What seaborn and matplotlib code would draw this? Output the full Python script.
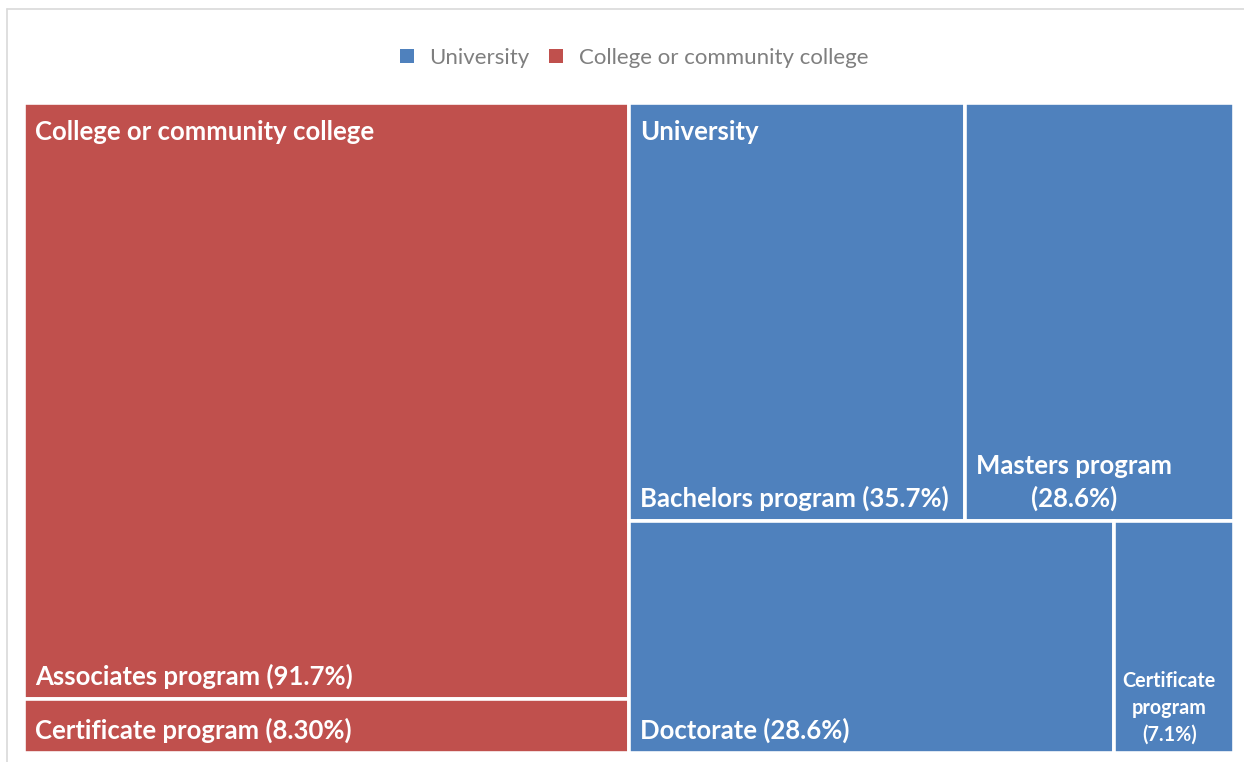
import matplotlib
matplotlib.use("Agg")
import matplotlib.pyplot as plt
import seaborn as sns
from matplotlib.patches import Rectangle, Patch
from matplotlib.lines import Line2D

# ---- data -------------------------------------------------------------
groups = ["College or community college", "University"]
group_colors = ["#C0504D", "#4F81BD"]
legend_order = ["University", "College or community college"]

college_programs = ["Associates program", "Certificate program"]
college_shares = [91.7, 8.30]
college_share_text = ["91.7%", "8.30%"]
college_label_lines = ["{name} ({pct})", "{name} ({pct})"]
college_rows = [[0], [1]]

university_programs = ["Bachelors program", "Masters program", "Doctorate", "Certificate program"]
university_shares = [35.7, 28.6, 28.6, 7.1]
university_share_text = ["35.7%", "28.6%", "28.6%", "7.1%"]
university_label_lines = ["{name} ({pct})", "{name}\n({pct})", "{name} ({pct})", "Certificate\nprogram\n({pct})"]
university_rows = [[0, 1], [2, 3]]

group_programs = [college_programs, university_programs]
group_shares = [college_shares, university_shares]
group_share_text = [college_share_text, university_share_text]
group_label_lines = [college_label_lines, university_label_lines]
group_rows = [college_rows, university_rows]

# ---- style ------------------------------------------------------------
sns.set_theme(style="white")
plt.rcParams["font.family"] = ["Lato", "DejaVu Sans"]

W, H = 1244, 762
fig = plt.figure(figsize=(W / 100, H / 100), dpi=100)
fig.patch.set_facecolor("white")

# thin grey frame of the chart area (top and left edges visible)
frame_col = "#D9D9D9"
fig.add_artist(Line2D([7 / W, 1.0], [1 - 9 / H, 1 - 9 / H], color=frame_col, lw=1.2))
fig.add_artist(Line2D([7 / W, 7 / W], [0.0, 1 - 9 / H], color=frame_col, lw=1.2))

ax = fig.add_axes([24 / W, 1 - 753 / H, 1210 / W, 650 / H])
group_totals = [sum(s) for s in group_shares]
grand_total = sum(group_totals)
ax.set_xlim(0, grand_total)
ax.set_ylim(100, 0)
ax.axis("off")

BIG = 18.5
SMALL = 14.2
EDGE = 2.6
x_cursor = 0.0
for g, gname in enumerate(groups):
    gw = group_totals[g]
    color = group_colors[g]
    y_cursor = 0.0
    for row in group_rows[g]:
        row_sum = sum(group_shares[g][i] for i in row)
        rh = row_sum / group_totals[g] * 100
        cx = x_cursor
        for i in row:
            cw = group_shares[g][i] / row_sum * gw
            ax.add_patch(Rectangle((cx, y_cursor), cw, rh, facecolor=color,
                                   edgecolor="white", linewidth=EDGE))
            text = group_label_lines[g][i].format(name=group_programs[g][i],
                                                  pct=group_share_text[g][i])
            small = text.count("\n") >= 2
            ax.annotate(text, xy=(cx, y_cursor + rh),
                        xytext=(6.5 if small else 8, 6 if small else 7.5),
                        textcoords="offset points", ha="left", va="bottom",
                        multialignment="center", color="white", fontweight="bold",
                        fontsize=SMALL if small else BIG,
                        linespacing=1.42 if small else 1.36)
            cx += cw
        y_cursor += rh
    ax.annotate(gname, xy=(x_cursor, 0), xytext=(8, -12.5), textcoords="offset points",
                ha="left", va="top", color="white", fontweight="bold", fontsize=BIG)
    x_cursor += gw

handles = [Patch(facecolor=group_colors[groups.index(n)], edgecolor="none") for n in legend_order]
fig.legend(handles, legend_order, loc="center", bbox_to_anchor=(634 / W, 1 - 58 / H), ncol=2,
           frameon=False, fontsize=16, labelcolor="#7F7F7F", handlelength=0.62,
           handleheight=0.62, handletextpad=0.7, columnspacing=0.9)

fig.savefig("out.png", dpi=100, facecolor="white")
